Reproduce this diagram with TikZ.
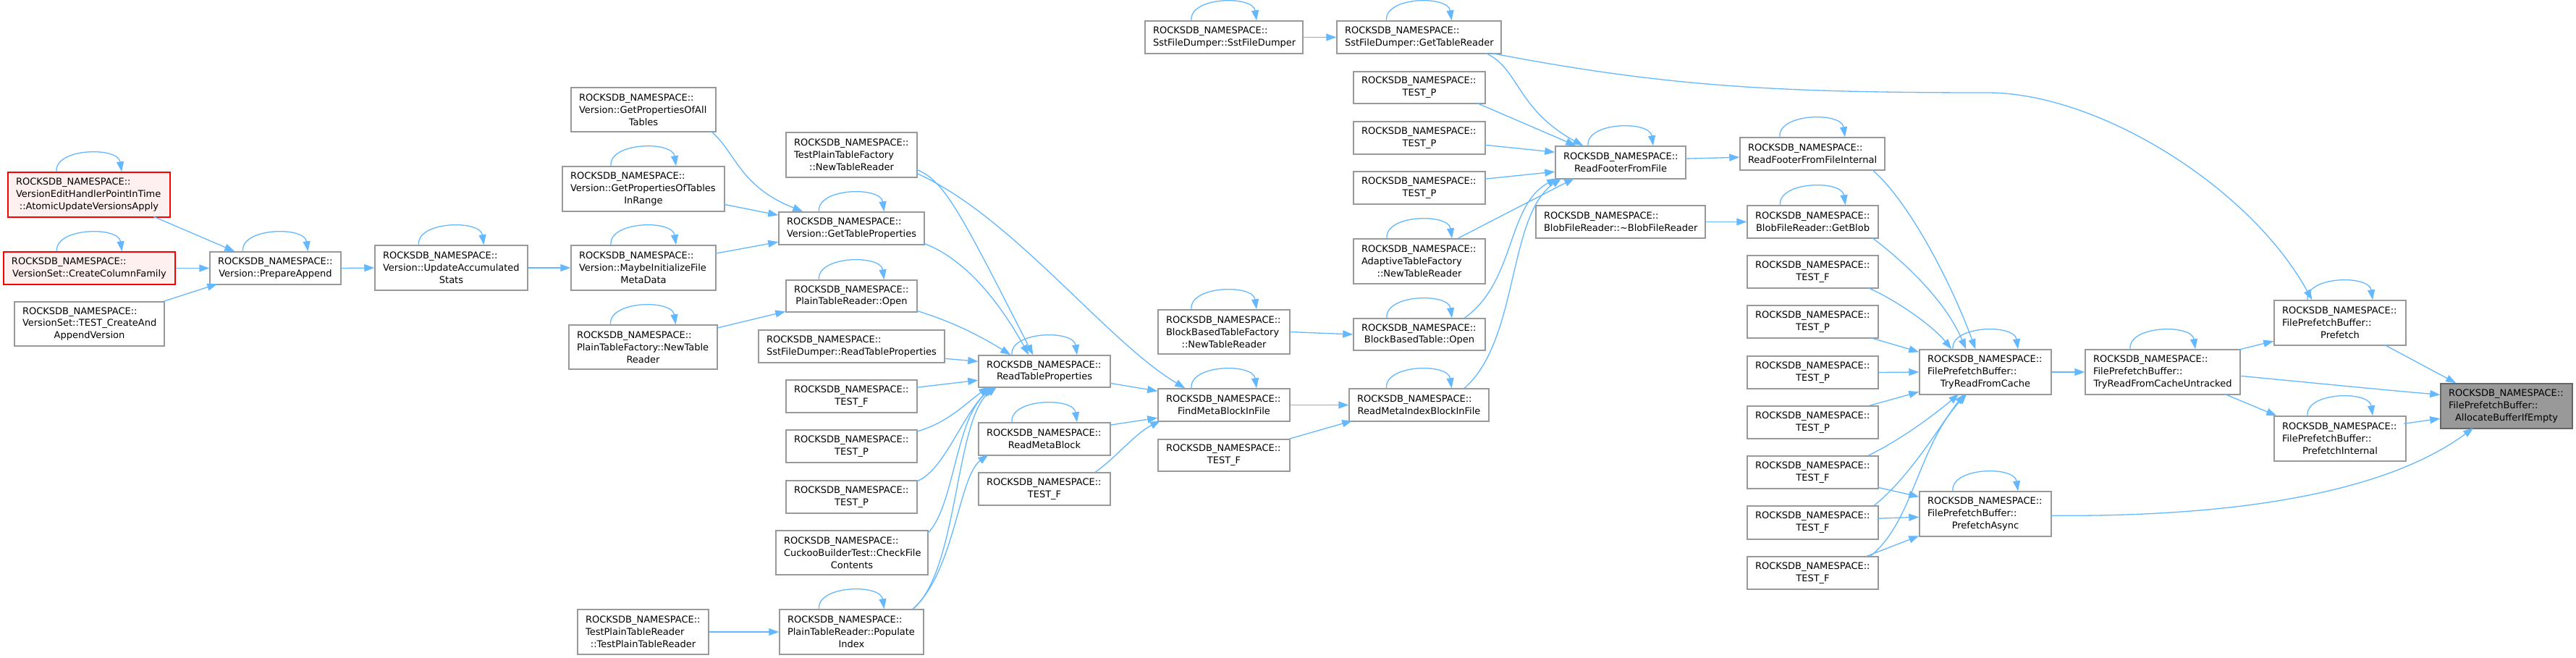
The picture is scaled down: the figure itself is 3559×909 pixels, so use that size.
\documentclass[tikz,border=0pt]{standalone}
\usepackage{fontspec}
\setmainfont{DejaVu Sans}
\usetikzlibrary{arrows.meta,calc}
\definecolor{edgec}{HTML}{63B8FF}
\definecolor{nodeb}{HTML}{999999}
\definecolor{rootf}{HTML}{999999}
\definecolor{rootb}{HTML}{666666}
\definecolor{redf}{HTML}{FFF0F0}
\tikzset{
  box/.style={draw=nodeb, line width=1.5pt, fill=white, inner xsep=11pt, inner ysep=0pt,
    align=center, font=\fontsize{13}{16.8}\selectfont, text=black},
  redbox/.style={draw=red, fill=redf},
  rootbox/.style={draw=rootb, fill=rootf},
  edge/.style={draw=edgec, line width=1.3pt, -{Triangle[length=14pt,width=10pt]}},
}
\newcommand{\lft}[1]{\makebox[\hsize][l]{#1}}
\newcommand{\RN}{\lft{ROCKSDB\_NAMESPACE::}}
\newcommand{\nd}[7][]{%
  \pgfmathsetmacro{\ndw}{#5-#3}%
  \pgfmathsetmacro{\ndh}{#6-#4}%
  \pgfmathsetmacro{\ndt}{#5-#3-22}%
  \pgfmathsetmacro{\ndx}{(#3+#5)/2}%
  \pgfmathsetmacro{\ndy}{(#4+#6)/2}%
  \node[box,#1,minimum width=\ndw pt,minimum height=\ndh pt,text width=\ndt pt] (#2) at (\ndx,\ndy) {#7};}
\newcommand{\sloop}[1]{\draw[edge] ($(#1.north)+(-45,0)$) .. controls ($(#1.north)+(-48,-33)$) and ($(#1.north)+(40,-35)$) .. ($(#1.north)+(45,0)$);}
\begin{document}
\begin{tikzpicture}[x=1pt,y=-1pt]
\path[fill=white,use as bounding box] (0,0) rectangle (3559,909);
% column 1
\nd[redbox]{A1}{11}{238}{235}{300}{\RN\\\lft{VersionEditHandlerPointInTime}\\::AtomicUpdateVersionsApply}
\nd[redbox]{A2}{5}{348}{242}{393}{\RN\\VersionSet::CreateColumnFamily}
\nd{A3}{20}{417}{227}{478}{\RN\\\lft{VersionSet::TEST\_CreateAnd}\\AppendVersion}
\nd{PA}{290}{348}{471}{393}{\RN\\Version::PrepareAppend}
\nd{UAS}{518}{339}{729}{401}{\RN\\\lft{Version::UpdateAccumulated}\\Stats}
\nd{GPA}{789}{121}{989}{182}{\RN\\\lft{Version::GetPropertiesOfAll}\\Tables}
\nd{GPR}{777}{230}{1001}{292}{\RN\\\lft{Version::GetPropertiesOfTables}\\InRange}
\nd{MIF}{789}{339}{989}{401}{\RN\\\lft{Version::MaybeInitializeFile}\\MetaData}
\nd{PTFN}{786}{449}{991}{510}{\RN\\\lft{PlainTableFactory::NewTable}\\Reader}
\nd{TPTR}{798}{842}{979}{904}{\RN\\\lft{TestPlainTableReader}\\::TestPlainTableReader}
% column 5
\nd{TPTF}{1086}{183}{1267}{245}{\RN\\\lft{TestPlainTableFactory}\\::NewTableReader}
\nd{VGTP}{1076}{293}{1277}{338}{\RN\\Version::GetTableProperties}
\nd{PTRO}{1086}{387}{1267}{431}{\RN\\PlainTableReader::Open}
\nd{SRTP}{1048}{456}{1305}{501}{\RN\\SstFileDumper::ReadTableProperties}
\nd{TFa}{1086}{525}{1267}{570}{\RN\\TEST\_F}
\nd{TPa}{1086}{594}{1267}{639}{\RN\\TEST\_P}
\nd{TPb}{1086}{664}{1267}{709}{\RN\\TEST\_P}
\nd{CBT}{1072}{733}{1282}{794}{\RN\\\lft{CuckooBuilderTest::CheckFile}\\Contents}
\nd{PI}{1077}{842}{1276}{904}{\RN\\\lft{PlainTableReader::Populate}\\Index}
% column 6
\nd{RTP}{1352}{491}{1534}{535}{\RN\\ReadTableProperties}
\nd{RMB}{1352}{584}{1534}{629}{\RN\\ReadMetaBlock}
\nd{TFb}{1352}{653}{1534}{698}{\RN\\TEST\_F}
% column 7
\nd{SFD}{1582}{29}{1800}{74}{\RN\\SstFileDumper::SstFileDumper}
\nd{BBTF}{1600}{428}{1782}{489}{\RN\\\lft{BlockBasedTableFactory}\\::NewTableReader}
\nd{FMB}{1600}{537}{1782}{582}{\RN\\FindMetaBlockInFile}
\nd{TFc}{1600}{607}{1782}{651}{\RN\\TEST\_F}
% column 8
\nd{SGTR}{1847}{29}{2074}{74}{\RN\\SstFileDumper::GetTableReader}
\nd{TPc}{1870}{99}{2052}{143}{\RN\\TEST\_P}
\nd{TPd}{1870}{168}{2052}{213}{\RN\\TEST\_P}
\nd{TPe}{1870}{237}{2052}{282}{\RN\\TEST\_P}
\nd{ATF}{1870}{330}{2052}{392}{\RN\\\lft{AdaptiveTableFactory}\\::NewTableReader}
\nd{BBTO}{1870}{440}{2052}{484}{\RN\\BlockBasedTable::Open}
\nd{RMIB}{1864}{537}{2057}{582}{\RN\\ReadMetaIndexBlockInFile}
% column 9
\nd{RFF}{2149}{202}{2329}{247}{\RN\\ReadFooterFromFile}
\nd{BFR}{2122}{284}{2356}{329}{\RN\\BlobFileReader::\textasciitilde BlobFileReader}
% column 10
\nd{RFFI}{2404}{190}{2604}{235}{\RN\\ReadFooterFromFileInternal}
\nd{GB}{2414}{284}{2595}{329}{\RN\\BlobFileReader::GetBlob}
\nd{TFd}{2414}{353}{2595}{398}{\RN\\TEST\_F}
\nd{TPf}{2414}{422}{2595}{467}{\RN\\TEST\_P}
\nd{TPg}{2414}{492}{2595}{537}{\RN\\TEST\_P}
\nd{TPh}{2414}{561}{2595}{606}{\RN\\TEST\_P}
\nd{TFe}{2414}{630}{2595}{675}{\RN\\TEST\_F}
\nd{TFf}{2414}{699}{2595}{745}{\RN\\TEST\_F}
\nd{TFg}{2414}{769}{2595}{814}{\RN\\TEST\_F}
% right part
\nd{TRC}{2652}{483}{2834}{545}{\RN\\\lft{FilePrefetchBuffer::}\\TryReadFromCache}
\nd{PFA}{2652}{679}{2834}{741}{\RN\\\lft{FilePrefetchBuffer::}\\PrefetchAsync}
\nd{TRCU}{2881}{483}{3095}{545}{\RN\\\lft{FilePrefetchBuffer::}\\TryReadFromCacheUntracked}
\nd{PF}{3142}{415}{3324}{477}{\RN\\\lft{FilePrefetchBuffer::}\\Prefetch}
\nd{PFI}{3142}{575}{3324}{637}{\RN\\\lft{FilePrefetchBuffer::}\\PrefetchInternal}
\nd[rootbox]{ABE}{3372}{530}{3554}{592}{\RN\\\lft{FilePrefetchBuffer::}\\AllocateBufferIfEmpty}
% self loops
\foreach \n in {A1,A2,PA,UAS,GPR,MIF,PTFN,VGTP,PTRO,PI,RTP,RMB,SFD,SGTR,BBTF,FMB,ATF,BBTO,RMIB,RFF,RFFI,GB,TRC,PFA,TRCU,PF,PFI} {\sloop{\n}}
% edges
\draw[edge] ($(A1.north west)+(202,62)$) -- ($(PA.north west)+(35,0)$);
\draw[edge] (A2.east) -- (PA.west);
\draw[edge] ($(A3.north west)+(207,0)$) -- ($(PA.north west)+(11,45)$);
\draw[edge] (PA.east) -- (UAS.west);
\draw[edge] (UAS.east) -- (MIF.west);
\draw[edge] ($(GPA.north west)+(194,61)$) .. controls +(35,30) and +(-88,-35) .. ($(VGTP.north west)+(34,0)$);
\draw[edge] ($(GPR.north west)+(224,53)$) -- ($(VGTP.north west)+(0,5)$);
\draw[edge] ($(MIF.north west)+(200,12)$) -- ($(VGTP.north west)+(0,42)$);
\draw[edge] ($(PTFN.north west)+(205,5)$) -- ($(PTRO.north west)+(0,44)$);
\draw[edge] (TPTR.east) -- (PI.west);
\draw[edge] ($(TPTF.north west)+(181,52)$) .. controls +(38,15) and +(-102,-200) .. ($(RTP.north west)+(76,0)$);
\draw[edge] ($(TPTF.north west)+(181,57)$) .. controls +(133,60) and +(-110,-66) .. ($(FMB.north west)+(38,0)$);
\draw[edge] ($(VGTP.north west)+(201,44)$) .. controls +(63,23) and +(-33,-60) .. ($(RTP.north west)+(70,0)$);
\draw[edge] ($(PTRO.north west)+(181,43)$) .. controls +(50,15) and +(-40,-25) .. ($(RTP.north west)+(45,0)$);
\draw[edge] ($(SRTP.north west)+(257,40)$) -- ($(RTP.north west)+(0,9)$);
\draw[edge] ($(TFa.north west)+(181,11)$) -- ($(RTP.north west)+(0,35)$);
\draw[edge] ($(TPa.north west)+(181,3)$) .. controls +(43,-12) and +(-32,23) .. ($(RTP.north west)+(15,44)$);
\draw[edge] ($(TPb.north west)+(181,2)$) .. controls +(38,-16) and +(-45,49) .. ($(RTP.north west)+(18,44)$);
\draw[edge] ($(CBT.north west)+(210,5)$) .. controls +(38,-38) and +(-54,44) .. ($(RTP.north west)+(22,44)$);
\draw[edge] ($(PI.north west)+(185,0)$) .. controls +(63,-52) and +(-58,44) .. ($(RTP.north west)+(26,44)$);
\draw[edge] ($(PI.north west)+(185,0)$) .. controls +(58,-52) and +(-41,30) .. ($(RMB.north west)+(14,45)$);
\draw[edge] ($(RTP.north west)+(182,39)$) -- ($(FMB.north west)+(0,4)$);
\draw[edge] ($(RMB.north west)+(182,4)$) -- ($(FMB.north west)+(0,41)$);
\draw[edge] ($(TFb.north west)+(162,0)$) .. controls +(26,-18) and +(-34,17) .. ($(FMB.north west)+(4,45)$);
\draw[edge] (SFD.east) -- (SGTR.west);
\draw[edge] (BBTF.east) -- (BBTO.west);
\draw[edge] (FMB.east) -- (RMIB.west);
\draw[edge] ($(TFc.north west)+(182,0)$) -- ($(RMIB.north west)+(5,45)$);
\draw[edge] ($(RMIB.north west)+(160,0)$) .. controls +(76,-67) and +(-75,52) .. ($(RFF.north west)+(9,45)$);
\draw[edge] ($(BBTO.north west)+(154,0)$) .. controls +(71,-50) and +(-70,37) .. ($(RFF.north west)+(3,45)$);
\draw[edge] ($(SGTR.north west)+(206,45)$) .. controls +(47,21) and +(-93,-51) .. ($(RFF.north west)+(39,0)$);
\coordinate (w1) at (2745,128);
\draw[edge] ($(SGTR.north west)+(213,45)$) .. controls +(240,46) and +(-295,0) .. (w1) .. controls +(155,0) and +(-85,-155) .. ($(PF.north west)+(53,0)$);
\draw[edge] ($(TPc.north west)+(171,44)$) -- ($(RFF.north west)+(29,0)$);
\draw[edge] ($(TPd.north west)+(182,33)$) -- ($(RFF.north west)+(0,9)$);
\draw[edge] ($(TPe.north west)+(182,11)$) -- ($(RFF.north west)+(0,36)$);
\draw[edge] ($(ATF.north west)+(145,0)$) -- ($(RFF.north west)+(27,45)$);
\draw[edge] ($(RFF.north west)+(180,18)$) -- ($(RFFI.north west)+(0,28)$);
\draw[edge] (BFR.east) -- (GB.west);
\draw[edge] ($(RFFI.north west)+(183,45)$) .. controls +(53,45) and +(-30,-83) .. ($(TRC.north west)+(78,0)$);
\draw[edge] ($(GB.north west)+(173,45)$) .. controls +(53,40) and +(-27,-63) .. ($(TRC.north west)+(65,0)$);
\draw[edge] ($(TFd.north west)+(167,45)$) .. controls +(39,17) and +(-27,-33) .. ($(TRC.north west)+(45,0)$);
\draw[edge] ($(TPf.north west)+(170,45)$) -- ($(TRC.north west)+(0,4)$);
\draw[edge] (TPg.east) -- (TRC.west);
\draw[edge] ($(TPh.north west)+(170,0)$) -- ($(TRC.north west)+(0,59)$);
\draw[edge] ($(TFe.north west)+(168,0)$) .. controls +(48,-23) and +(-27,23) .. ($(TRC.north west)+(55,62)$);
\draw[edge] ($(TFe.north west)+(181,44)$) -- ($(PFA.north west)+(0,8)$);
\draw[edge] ($(TFf.north west)+(176,0)$) .. controls +(50,-39) and +(-27,33) .. ($(TRC.north west)+(63,62)$);
\draw[edge] ($(TFf.north west)+(181,18)$) -- ($(PFA.north west)+(0,36)$);
\draw[edge] ($(TFg.north west)+(171,0)$) .. controls +(60,-49) and +(-68,73) .. ($(TRC.north west)+(66,62)$);
\draw[edge] ($(TFg.north west)+(166,0)$) -- ($(PFA.north west)+(0,62)$);
\draw[edge] (TRC.east) -- (TRCU.west);
\draw[edge] ($(TRCU.north west)+(212,1)$) -- ($(PF.north west)+(0,57)$);
\draw[edge] ($(TRCU.north west)+(214,37)$) .. controls +(105,10) and +(-72,-6) .. ($(ABE.north west)+(0,16)$);
\draw[edge] ($(TRCU.north west)+(193,62)$) -- ($(PFI.north west)+(4,0)$);
\draw[edge] ($(PF.north west)+(153,62)$) -- ($(ABE.north west)+(22,0)$);
\draw[edge] ($(PFI.north west)+(180,11)$) -- ($(ABE.north west)+(0,49)$);
\draw[edge] ($(PFA.north west)+(182,34)$) .. controls +(266,2) and +(-118,87) .. ($(ABE.north west)+(46,62)$);
\end{tikzpicture}
\end{document}
